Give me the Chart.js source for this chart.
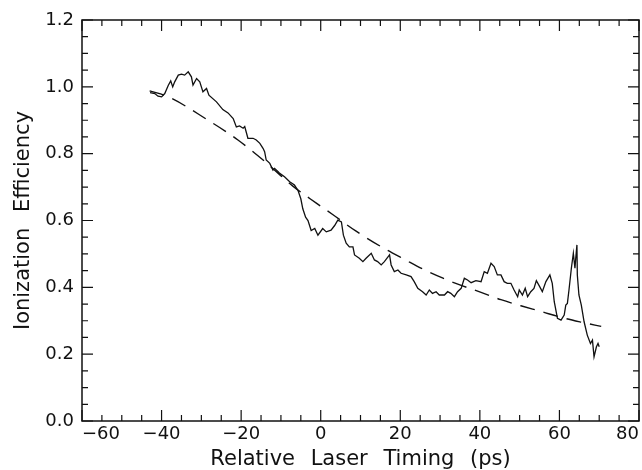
<!DOCTYPE html>
<html lang="en">
<head>
    <meta charset="UTF-8">
    <title>Ionization Efficiency vs Relative Laser Timing</title>
    <script src="https://cdn.jsdelivr.net/npm/chart.js"></script>
    <style>
        * {
            margin: 0;
            padding: 0;
            box-sizing: border-box;
        }
        body {
            background: #ffffff;
            width: 642px;
            height: 470px;
            overflow: hidden;
        }
        #chartBox {
            width: 642px;
            height: 470px;
        }
    </style>
</head>
<body>
    <div id="chartBox">
        <canvas id="effChart" width="642" height="470"></canvas>
    </div>

    <script>
        // measured curve (solid)
        const timing = [
            -42.9, -41.7, -40.9, -40.0, -39.2, -38.3, -37.7, -37.2, -36.7, -35.8,
            -35.0, -34.2, -33.3, -32.5, -32.1, -31.2, -30.4, -29.6, -28.7, -28.1,
            -26.2, -24.6, -23.3, -22.0, -21.2, -20.4, -19.5, -19.1, -18.3, -17.0,
            -16.2, -15.3, -14.5, -14.1, -13.7, -12.8, -12.0, -11.6, -10.7, -10.3,
            -9.1, -7.8, -6.6, -5.7, -5.0, -4.5, -3.8, -3.2, -2.4, -1.5,
            -0.7, 0.5, 1.4, 2.6, 3.5, 4.3, 5.2, 5.7, 6.4, 7.2,
            8.1, 8.5, 9.7, 10.6, 11.4, 12.7, 13.5, 14.3, 15.2, 16.0,
            17.3, 17.7, 18.5, 19.4, 20.2, 21.5, 22.7, 23.5, 24.4, 25.6,
            26.5, 27.3, 28.1, 29.0, 29.8, 31.1, 31.9, 32.7, 33.6, 34.4,
            35.3, 36.1, 36.9, 37.8, 39.0, 40.3, 41.1, 41.9, 42.8, 43.6,
            44.4, 45.3, 46.1, 46.9, 47.8, 48.6, 49.5, 49.9, 50.7, 51.4,
            52.0, 52.8, 53.6, 54.2, 54.9, 55.7, 56.6, 57.6, 58.2, 58.7,
            59.5, 60.4, 61.2, 61.6, 62.0, 62.4, 63.0, 63.5, 63.9, 64.1,
            64.4, 64.5, 64.9, 65.5, 66.2, 67.0, 67.8, 68.3, 68.7, 69.3,
            69.7, 70.0
        ];
        const efficiency = [
            0.983, 0.980, 0.972, 0.970, 0.980, 1.005, 1.018, 1.000, 1.015, 1.035,
            1.038, 1.035, 1.045, 1.030, 1.005, 1.025, 1.015, 0.985, 0.995, 0.975,
            0.955, 0.932, 0.922, 0.905, 0.880, 0.883, 0.876, 0.881, 0.846, 0.846,
            0.841, 0.831, 0.816, 0.806, 0.781, 0.771, 0.751, 0.756, 0.746, 0.741,
            0.731, 0.716, 0.706, 0.690, 0.665, 0.635, 0.610, 0.600, 0.570, 0.576,
            0.556, 0.576, 0.566, 0.571, 0.585, 0.601, 0.596, 0.556, 0.532, 0.521,
            0.521, 0.497, 0.487, 0.477, 0.487, 0.502, 0.482, 0.477, 0.467, 0.477,
            0.497, 0.467, 0.447, 0.452, 0.442, 0.437, 0.432, 0.417, 0.397, 0.387,
            0.377, 0.392, 0.382, 0.387, 0.377, 0.377, 0.387, 0.382, 0.372, 0.387,
            0.397, 0.427, 0.422, 0.414, 0.420, 0.417, 0.447, 0.442, 0.472, 0.462,
            0.437, 0.437, 0.417, 0.412, 0.412, 0.392, 0.372, 0.392, 0.377, 0.397,
            0.372, 0.387, 0.397, 0.420, 0.405, 0.387, 0.417, 0.437, 0.412, 0.357,
            0.307, 0.302, 0.317, 0.347, 0.352, 0.392, 0.457, 0.502, 0.457, 0.487,
            0.527, 0.437, 0.377, 0.347, 0.297, 0.257, 0.232, 0.242, 0.192, 0.222,
            0.232, 0.222
        ];

        // fitted curve (dashed)
        const fitTiming = [-43.0, -38.3, -28.7, -20.8, -13.7, -7.0, -1.1, 3.0, 8.9, 16.0, 21.0, 25.6, 30.6, 34.8, 40.3, 45.3, 50.3, 55.3, 60.8, 65.8, 70.5];
        const fitEfficiency = [0.988, 0.970, 0.903, 0.841, 0.773, 0.703, 0.652, 0.618, 0.568, 0.516, 0.484, 0.455, 0.428, 0.408, 0.385, 0.363, 0.345, 0.328, 0.309, 0.295, 0.283];

        const xTicks = [-60, -40, -20, 0, 20, 40, 60, 80];
        const yTicks = [0.0, 0.2, 0.4, 0.6, 0.8, 1.0, 1.2];
        const xMinorStep = 5;
        const yMinorStep = 0.05;

        const measured = timing.map((t, i) => ({ x: t, y: efficiency[i] }));
        const fitted = fitTiming.map((t, i) => ({ x: t, y: fitEfficiency[i] }));

        // frame plus inward ticks on all four sides
        const frameTicks = {
            id: 'frameTicks',
            beforeDraw(chart) {
                // the old plot uses wide gaps between words in the axis titles
                chart.ctx.wordSpacing = '9px';
            },
            afterDraw(chart) {
                const { ctx, chartArea: a, scales: { x, y } } = chart;
                ctx.save();
                ctx.strokeStyle = '#111';
                ctx.lineWidth = 1.5;
                ctx.strokeRect(a.left, a.top, a.right - a.left, a.bottom - a.top);
                ctx.lineWidth = 1.2;
                ctx.beginPath();
                const nx = Math.round((xTicks[xTicks.length - 1] - xTicks[0]) / xMinorStep);
                for (let i = 0; i <= nx; i++) {
                    const v = xTicks[0] + i * xMinorStep;
                    const len = (i % 4 === 0) ? 11 : 6;
                    const px = x.getPixelForValue(v);
                    ctx.moveTo(px, a.bottom); ctx.lineTo(px, a.bottom - len);
                    ctx.moveTo(px, a.top); ctx.lineTo(px, a.top + len);
                }
                const ny = Math.round((yTicks[yTicks.length - 1] - yTicks[0]) / yMinorStep);
                for (let i = 0; i <= ny; i++) {
                    const v = yTicks[0] + i * yMinorStep;
                    const len = (i % 4 === 0) ? 11 : 6;
                    const py = y.getPixelForValue(v);
                    ctx.moveTo(a.left, py); ctx.lineTo(a.left + len, py);
                    ctx.moveTo(a.right, py); ctx.lineTo(a.right - len, py);
                }
                ctx.stroke();
                ctx.restore();
            }
        };

        const ctx = document.getElementById('effChart').getContext('2d');
        new Chart(ctx, {
            type: 'line',
            data: {
                datasets: [
                    {
                        label: 'Measured',
                        data: measured,
                        borderColor: '#111',
                        borderWidth: 1.3,
                        pointRadius: 0,
                        tension: 0,
                        fill: false
                    },
                    {
                        label: 'Fit',
                        data: fitted,
                        borderColor: '#111',
                        borderWidth: 1.4,
                        borderDash: [15, 9],
                        pointRadius: 0,
                        cubicInterpolationMode: 'monotone',
                        fill: false
                    }
                ]
            },
            options: {
                responsive: false,
                animation: false,
                layout: { padding: { top: 20, right: 2, left: 0, bottom: 0 } },
                plugins: {
                    legend: { display: false },
                    tooltip: { enabled: false }
                },
                scales: {
                    x: {
                        type: 'linear',
                        min: xTicks[0],
                        max: xTicks[xTicks.length - 1],
                        afterBuildTicks: (s) => { s.ticks = xTicks.map(v => ({ value: v })); },
                        afterFit: (s) => { s.height = 49; },
                        grid: { display: false, drawTicks: false },
                        border: { display: false },
                        ticks: {
                            align: 'inner',
                            padding: 3,
                            color: '#111',
                            maxRotation: 0,
                            font: { family: 'DejaVu Sans', size: 18 },
                            callback: (v) => (v < 0 ? '\u2212' + Math.abs(v) : String(v))
                        },
                        title: {
                            display: true,
                            text: 'Relative Laser Timing (ps)',
                            color: '#111',
                            padding: { top: 0, bottom: 0 },
                            font: { family: 'DejaVu Sans', size: 21, lineHeight: 1 }
                        }
                    },
                    y: {
                        type: 'linear',
                        min: yTicks[0],
                        max: yTicks[yTicks.length - 1],
                        afterBuildTicks: (s) => { s.ticks = yTicks.map(v => ({ value: v })); },
                        afterFit: (s) => { s.width = 82; },
                        grid: { display: false, drawTicks: false },
                        border: { display: false },
                        ticks: {
                            padding: 8,
                            color: '#111',
                            font: { family: 'DejaVu Sans', size: 18 },
                            callback: (v) => Number(v).toFixed(1)
                        },
                        title: {
                            display: true,
                            text: 'Ionization Efficiency',
                            color: '#111',
                            padding: { top: 13, bottom: 0 },
                            font: { family: 'DejaVu Sans', size: 21, lineHeight: 1 }
                        }
                    }
                }
            },
            plugins: [frameTicks]
        });
    </script>
</body>
</html>
